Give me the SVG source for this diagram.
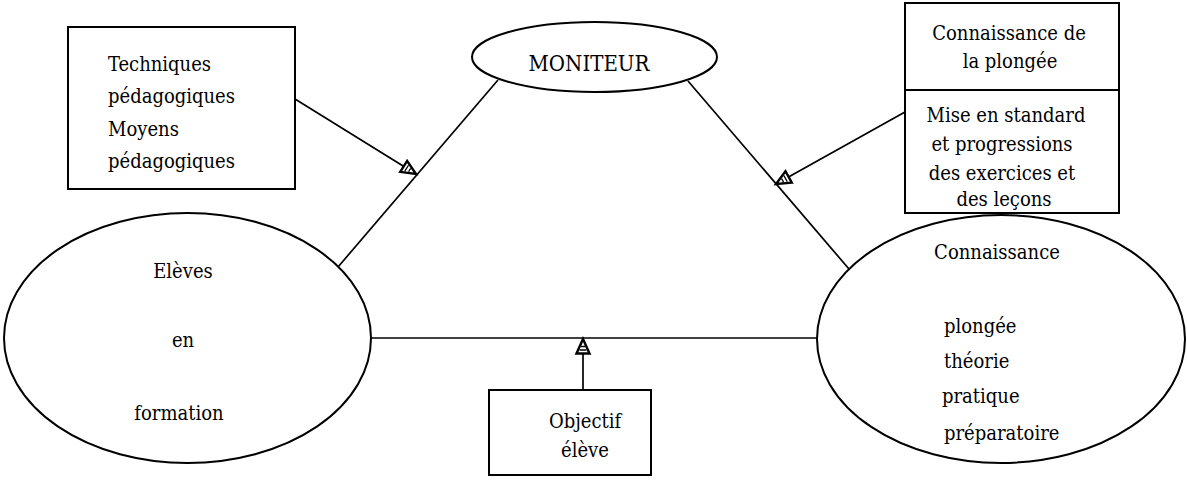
<svg xmlns="http://www.w3.org/2000/svg" width="1187" height="484" viewBox="0 0 1187 484">
<style>
.shape{fill:#fff;stroke:#000;stroke-width:2}
.conn{stroke:#000;stroke-width:1.7;fill:none}
text{font-family:"DejaVu Serif Condensed","DejaVu Serif","Liberation Serif",serif;font-stretch:condensed;font-size:20px;fill:#000}
.c{text-anchor:middle}
</style>
<defs>
<marker id="tri" markerUnits="userSpaceOnUse" markerWidth="20" markerHeight="18" refX="16" refY="8" orient="auto" viewBox="0 0 20 16">
<path d="M1.5,1.5 L16,8 L1.5,14.5 z" fill="#fff" stroke="#000" stroke-width="2.4"/>
<path d="M5,4.5 L5,11.5 M8.5,6 L8.5,10" stroke="#000" stroke-width="1.3"/>
</marker>
</defs>
<rect width="1187" height="484" fill="#fff"/>
<g id="connectors">
<line class="conn" x1="498" y1="80" x2="338" y2="267"/>
<line class="conn" x1="688" y1="81" x2="849" y2="269"/>
<line class="conn" x1="371" y1="338" x2="818" y2="338"/>
<line class="conn" x1="295" y1="99" x2="416" y2="174" marker-end="url(#tri)"/>
<line class="conn" x1="905" y1="112" x2="776" y2="184" marker-end="url(#tri)"/>
<line class="conn" x1="583" y1="390" x2="583" y2="339" marker-end="url(#tri)"/>
</g>
<g id="moniteur">
<ellipse class="shape" cx="594.5" cy="57" rx="122.5" ry="35"/>
<text class="c" x="589" y="71" style="font-size:22px">MONITEUR</text>
</g>
<g id="techniques">
<rect class="shape" x="68" y="27" width="227" height="162"/>
<text x="108" y="71">Techniques</text>
<text x="108" y="103">pédagogiques</text>
<text x="108" y="136">Moyens</text>
<text x="108" y="168">pédagogiques</text>
</g>
<g id="connaissance-plongee">
<rect class="shape" x="905" y="3" width="214" height="210"/>
<line x1="905" y1="90" x2="1119" y2="90" stroke="#000" stroke-width="2"/>
<text class="c" x="1009" y="40">Connaissance de</text>
<text class="c" x="1010" y="68">la plongée</text>
<text class="c" x="1006" y="122">Mise en standard</text>
<text class="c" x="1002" y="151">et progressions</text>
<text class="c" x="1002" y="180">des exercices et</text>
<text class="c" x="1004" y="206">des leçons</text>
</g>
<g id="eleves">
<ellipse class="shape" cx="187.5" cy="338" rx="183.5" ry="125"/>
<text class="c" x="183" y="278">Elèves</text>
<text class="c" x="183" y="347">en</text>
<text class="c" x="179" y="420">formation</text>
</g>
<g id="connaissance">
<ellipse class="shape" cx="1001" cy="339" rx="184" ry="124"/>
<text class="c" x="997" y="259">Connaissance</text>
<text x="944" y="333">plongée</text>
<text x="944" y="368">théorie</text>
<text x="942" y="403">pratique</text>
<text x="944" y="440">préparatoire</text>
</g>
<g id="objectif">
<rect class="shape" x="489" y="390" width="162" height="85"/>
<text class="c" x="585" y="428">Objectif</text>
<text class="c" x="585" y="457">élève</text>
</g>
</svg>
